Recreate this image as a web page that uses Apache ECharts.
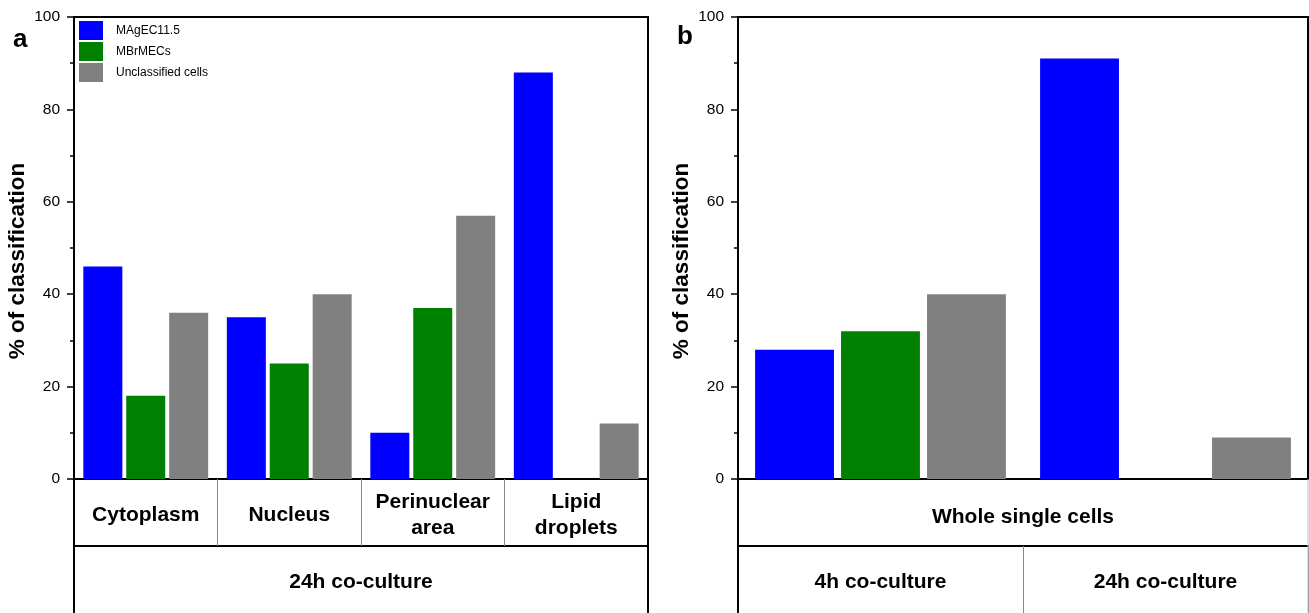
<!DOCTYPE html>
<html>
<head>
<meta charset="utf-8">
<script src="https://cdn.jsdelivr.net/npm/echarts@6/dist/echarts.min.js"></script>
<style>
  html, body { margin: 0; padding: 0; background: #fff; }
  #main { width: 1309px; height: 613px; }
</style>
</head>
<body>
<div id="main"></div>
<script>
// panel a: compartments after 24h co-culture
var leftCats = ['Cytoplasm', 'Nucleus', 'Perinuclear\narea', 'Lipid\ndroplets'];
var leftGroup = ['24h co-culture'];
var leftMAgEC = [46, 35, 10, 88];
var leftMBrMEC = [18, 25, 37, 0];
var leftUnclass = [36, 40, 57, 12];

// panel b: whole single cells
var rightCats = ['4h co-culture', '24h co-culture'];
var rightGroup = ['Whole single cells'];
var rightMAgEC = [28, 91];
var rightMBrMEC = [32, 0];
var rightUnclass = [40, 9];

var seriesNames = ['MAgEC11.5', 'MBrMECs', 'Unclassified cells'];
var colors = ['#0000ff', '#008000', '#808080'];
var yTicks = [0, 20, 40, 60, 80, 100];

var FONT = '"Liberation Sans", Arial, sans-serif';
var chart = echarts.init(document.getElementById('main'));

function yAxisFor(grid) {
  return {
    gridIndex: grid, type: 'value', min: yTicks[0], max: yTicks[yTicks.length - 1], interval: 20,
    name: '% of classification', nameLocation: 'middle', nameGap: 45,
    nameTextStyle: { fontFamily: FONT, fontSize: 22.5, fontWeight: 'bold', color: '#000', padding: [0, 26, 0, 0] },
    axisLine: { show: true, lineStyle: { color: '#000', width: 2 } },
    axisTick: { show: true, length: 7, lineStyle: { color: '#000', width: 1.5 } },
    minorTick: { show: true, splitNumber: 2, length: 4, lineStyle: { color: '#000', width: 1.5 } },
    splitLine: { show: false },
    axisLabel: { fontFamily: FONT, fontSize: 15.5, color: '#000', margin: 14 }
  };
}

var catLabel = { fontFamily: FONT, fontSize: 21, fontWeight: 'bold', color: '#000', verticalAlign: 'middle', lineHeight: 26 };

function bars(name, data, xi, yi, catGap, gap, idx) {
  return {
    name: name, type: 'bar', data: data, xAxisIndex: xi, yAxisIndex: yi,
    barCategoryGap: catGap, barGap: gap,
    itemStyle: { color: colors[idx] }
  };
}

var option = {
  animation: false,
  backgroundColor: '#fff',
  grid: [
    { left: 74, top: 17, width: 574, height: 462, show: true, borderColor: '#000', borderWidth: 2 },
    { left: 738, top: 17, width: 570, height: 462, show: true, borderColor: '#000', borderWidth: 2 }
  ],
  legend: {
    data: seriesNames, left: 74, top: 16, orient: 'vertical',
    itemWidth: 24, itemHeight: 19, itemGap: 2, icon: 'rect',
    textStyle: { fontFamily: FONT, fontSize: 12, color: '#000', padding: [0, 0, 0, 8] }
  },
  xAxis: [
    { gridIndex: 0, type: 'category', data: leftCats, position: 'bottom',
      axisLine: { lineStyle: { color: '#000', width: 2 } },
      axisTick: { show: true, length: 67, lineStyle: { color: '#888', width: 1 } },
      axisLabel: Object.assign({ margin: 36, interval: 0 }, catLabel) },
    { gridIndex: 0, type: 'category', data: leftGroup, position: 'bottom', offset: 67,
      axisLine: { lineStyle: { color: '#000', width: 2 } },
      axisTick: { show: false },
      axisLabel: Object.assign({ margin: 36 }, catLabel) },
    { gridIndex: 1, type: 'category', data: rightCats, position: 'bottom',
      axisLine: { lineStyle: { color: '#000', width: 2 } },
      axisTick: { show: false }, axisLabel: { show: false } },
    { gridIndex: 1, type: 'category', data: rightGroup, position: 'bottom',
      axisLine: { show: false }, axisTick: { show: false },
      axisLabel: Object.assign({ margin: 38 }, catLabel) },
    { gridIndex: 1, type: 'category', data: rightCats, position: 'bottom', offset: 67,
      axisLine: { lineStyle: { color: '#000', width: 2 } },
      axisTick: { show: true, length: 67, lineStyle: { color: '#888', width: 1 } },
      axisLabel: Object.assign({ margin: 36, interval: 0 }, catLabel) }
  ],
  yAxis: [yAxisFor(0), yAxisFor(1)],
  series: [
    bars(seriesNames[0], leftMAgEC, 0, 0, '13%', '10%', 0),
    bars(seriesNames[1], leftMBrMEC, 0, 0, '13%', '10%', 1),
    bars(seriesNames[2], leftUnclass, 0, 0, '13%', '10%', 2),
    bars(seriesNames[0], rightMAgEC, 2, 1, '12%', '9%', 0),
    bars(seriesNames[1], rightMBrMEC, 2, 1, '12%', '9%', 1),
    bars(seriesNames[2], rightUnclass, 2, 1, '12%', '9%', 2)
  ],
  graphic: [
    // table frame below the plots
    { type: 'line', shape: { x1: 74, y1: 479, x2: 74, y2: 613 }, style: { stroke: '#000', lineWidth: 2 }, z: 10 },
    { type: 'line', shape: { x1: 648, y1: 479, x2: 648, y2: 613 }, style: { stroke: '#000', lineWidth: 2 }, z: 10 },
    { type: 'line', shape: { x1: 738, y1: 479, x2: 738, y2: 613 }, style: { stroke: '#000', lineWidth: 2 }, z: 10 },
    { type: 'line', shape: { x1: 1308, y1: 479, x2: 1308, y2: 613 }, style: { stroke: '#bbb', lineWidth: 1 }, z: 10 },
    { type: 'text', left: 13, top: 27, style: { text: 'a', font: 'bold 26px ' + FONT, fill: '#000' } },
    { type: 'text', left: 677, top: 24, style: { text: 'b', font: 'bold 26px ' + FONT, fill: '#000' } }
  ]
};

chart.setOption(option);
window.addEventListener('resize', function () { chart.resize(); });
</script>
</body>
</html>
